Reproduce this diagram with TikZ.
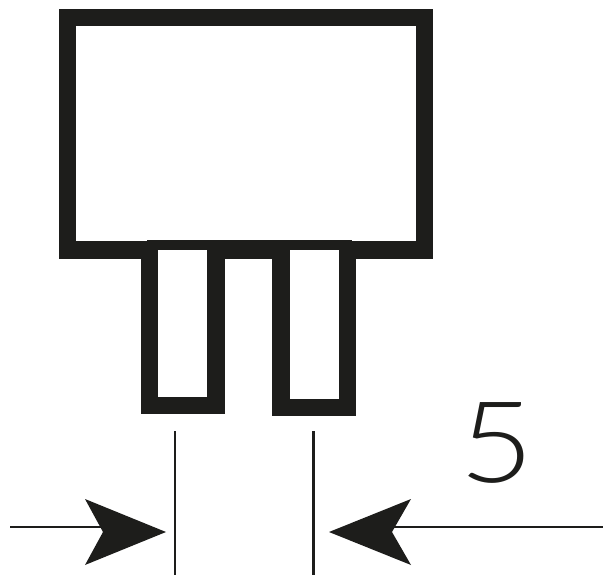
\documentclass[tikz,border=0pt]{standalone}
\usepackage{fontspec}
\setmainfont{Lato Light}
\usepackage{tikz}
\usetikzlibrary{positioning}

\definecolor{inkblack}{RGB}{29,29,27}
\tikzset{
  body/.style={rectangle,draw=inkblack,line width=17pt,inner sep=0pt,minimum width=357.5pt,minimum height=232pt},
  pinouter/.style={rectangle,fill=inkblack,inner sep=0pt,minimum width=84pt},
  pininner/.style={rectangle,fill=white,inner sep=0pt,minimum width=49pt},
  dimline/.style={draw=inkblack,line width=2.8pt},
  dimhead/.style={fill=inkblack}
}

\begin{document}
\begin{tikzpicture}[x=1pt,y=-1pt]
    \useasboundingbox (0,0) rectangle (603,575);
    \node[body] (main) at (245.75,134) {};
    \node[rectangle,fill=inkblack,inner sep=0pt,minimum width=205pt,minimum height=10pt] (bar) at (249.5,245) {};
    \node[pinouter,minimum height=164pt] (leftpin) at (183,332) {};
    \node[pinouter,minimum height=166pt] (rightpin) at (314,333) {};
    \node[pininner,minimum height=147pt] (leftslot) at (182.5,323.5) {};
    \node[pininner,minimum height=149pt] (rightslot) at (314,324.5) {};
    \node[font=\fontsize{113}{113}\selectfont,text=inkblack,inner sep=0pt,xscale=1.14] (five) at (497,443) {5};
    % dimension lines
    \coordinate (extLtop) at (175,431);
    \coordinate (extLbot) at (175,575);
    \coordinate (extRtop) at (313.5,431);
    \coordinate (extRbot) at (313.5,575);
    \draw[dimline] (extLtop) -- (extLbot);
    \draw[dimline] (extRtop) -- (extRbot);
    \coordinate (shaftL) at (10,527);
    \coordinate (notchL) at (105,527);
    \coordinate (shaftR) at (603,527);
    \coordinate (notchR) at (390,527);
    \draw[dimline] (shaftL) -- (notchL);
    \draw[dimline] (shaftR) -- (notchR);
    \fill[dimhead] (166,532) -- (85,499) -- (103,532) -- (85,565) -- cycle;
    \fill[dimhead] (329,532) -- (411,499) -- (392,532) -- (411,565) -- cycle;
  \end{tikzpicture}
\end{document}
